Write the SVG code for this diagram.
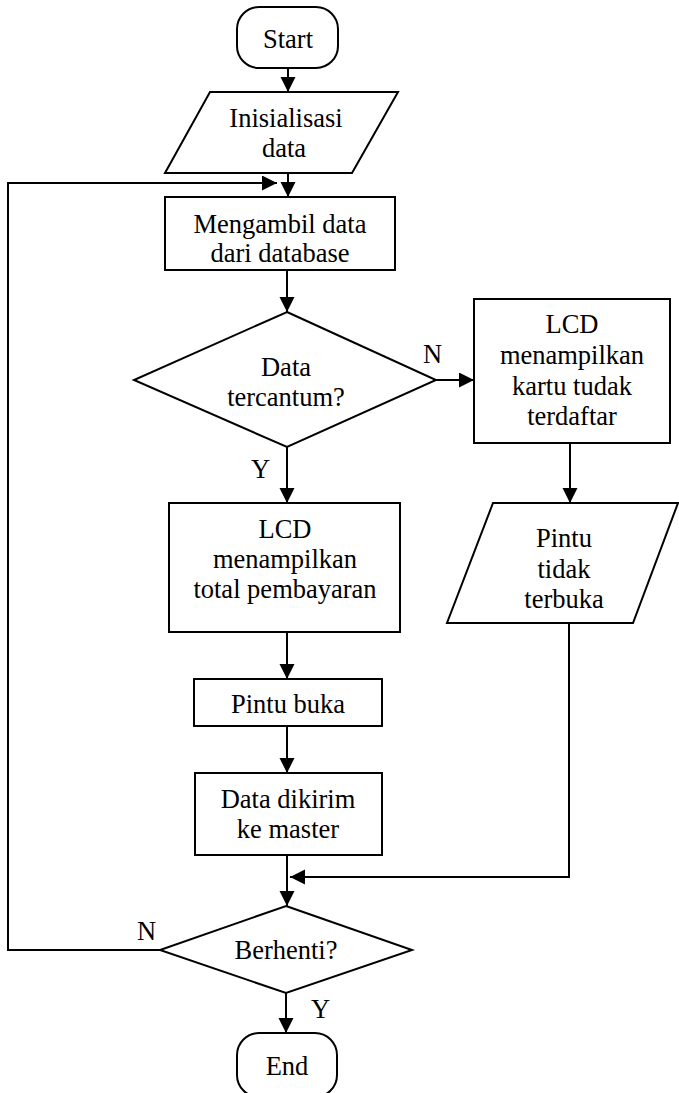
<svg xmlns="http://www.w3.org/2000/svg" width="679" height="1093" viewBox="0 0 679 1093">
<style>
.s{fill:#fff;stroke:#000;stroke-width:2}
.t{font-family:"Liberation Serif","Times New Roman",serif;font-size:26.5px;fill:#000;text-anchor:middle}
.l{font-family:"Liberation Serif","Times New Roman",serif;font-size:26.5px;fill:#000}
.c{fill:none;stroke:#000;stroke-width:2}
</style>
<defs>
<marker id="a" markerUnits="userSpaceOnUse" markerWidth="16" markerHeight="16" refX="15" refY="7.5" orient="auto">
<path d="M0,0 L15,7.5 L0,15 z" fill="#000"/>
</marker>
</defs>
<rect width="679" height="1093" fill="#fff"/>
<g id="connectors">
<path class="c" d="M288,68 V92" marker-end="url(#a)"/>
<path class="c" d="M288,173 V197" marker-end="url(#a)"/>
<path class="c" d="M160,950 H8 V183 H277" marker-end="url(#a)"/>
<path class="c" d="M287,270 V312" marker-end="url(#a)"/>
<path class="c" d="M436,380 H474" marker-end="url(#a)"/>
<path class="c" d="M287,447 V503" marker-end="url(#a)"/>
<path class="c" d="M287,632 V679" marker-end="url(#a)"/>
<path class="c" d="M287,726 V773" marker-end="url(#a)"/>
<path class="c" d="M287,855 V906" marker-end="url(#a)"/>
<path class="c" d="M570,443 V503" marker-end="url(#a)"/>
<path class="c" d="M569,623 V877 H290" marker-end="url(#a)"/>
<path class="c" d="M286,993 V1033" marker-end="url(#a)"/>
<text class="l" x="423" y="363">N</text>
<text class="l" x="251" y="478">Y</text>
<text class="l" x="137" y="940">N</text>
<text class="l" x="311" y="1018">Y</text>
</g>
<g id="start">
<rect class="s" x="237" y="7" width="101" height="61" rx="22" ry="22"/>
<text class="t" x="288" y="48">Start</text>
</g>
<g id="init">
<polygon class="s" points="210,92 398,92 352,173 165,173"/>
<text class="t" x="286" y="127">Inisialisasi</text>
<text class="t" x="284" y="157">data</text>
</g>
<g id="ambil">
<rect class="s" x="165" y="197" width="230" height="73"/>
<text class="t" x="280" y="233">Mengambil data</text>
<text class="t" x="280" y="262">dari database</text>
</g>
<g id="cek">
<polygon class="s" points="287,312 436,380 287,447 134,380"/>
<text class="t" x="286" y="376">Data</text>
<text class="t" x="286" y="406">tercantum?</text>
</g>
<g id="lcd-tidak">
<rect class="s" x="474" y="299" width="196" height="144"/>
<text class="t" x="572" y="333">LCD</text>
<text class="t" x="572" y="364">menampilkan</text>
<text class="t" x="572" y="395">kartu tudak</text>
<text class="t" x="572" y="425">terdaftar</text>
</g>
<g id="pintu-tidak">
<polygon class="s" points="493,503 678,503 633,623 447,623"/>
<text class="t" x="564" y="547">Pintu</text>
<text class="t" x="564" y="578">tidak</text>
<text class="t" x="564" y="608">terbuka</text>
</g>
<g id="lcd-total">
<rect class="s" x="169" y="503" width="231" height="129"/>
<text class="t" x="285" y="538">LCD</text>
<text class="t" x="285" y="568">menampilkan</text>
<text class="t" x="285" y="598">total pembayaran</text>
</g>
<g id="pintu-buka">
<rect class="s" x="194" y="679" width="188" height="47"/>
<text class="t" x="288" y="713">Pintu buka</text>
</g>
<g id="kirim">
<rect class="s" x="195" y="773" width="187" height="82"/>
<text class="t" x="288" y="808">Data dikirim</text>
<text class="t" x="288" y="838">ke master</text>
</g>
<g id="berhenti">
<polygon class="s" points="286,906 412,950 286,993 160,950"/>
<text class="t" x="286" y="959">Berhenti?</text>
</g>
<g id="end">
<rect class="s" x="237" y="1033" width="100" height="64" rx="22" ry="22"/>
<text class="t" x="287" y="1075">End</text>
</g>
</svg>
